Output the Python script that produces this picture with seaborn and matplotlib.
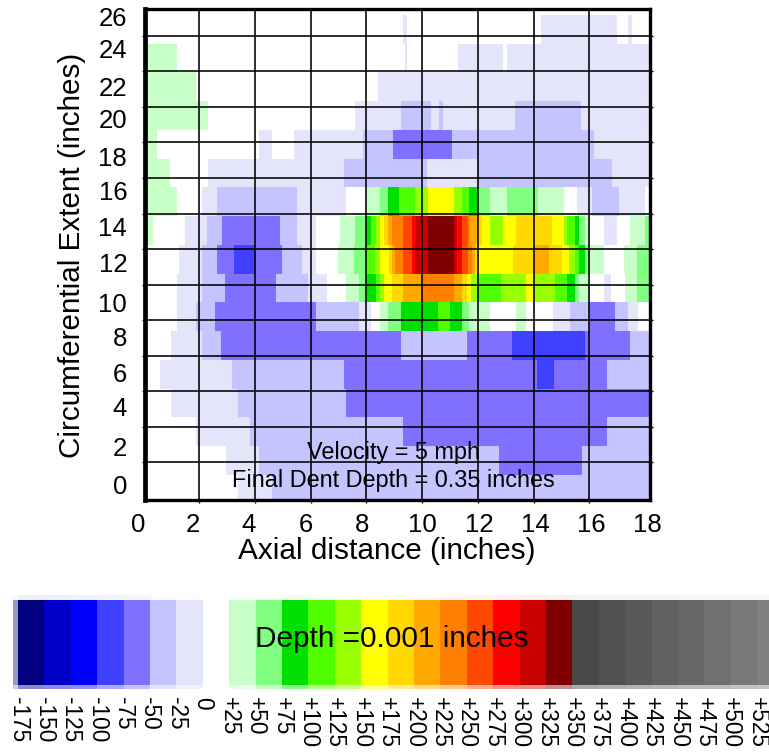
import numpy as np
import matplotlib
matplotlib.use("Agg")
import matplotlib.pyplot as plt
from matplotlib.colors import ListedColormap, BoundaryNorm
import seaborn as sns

sns.set_theme(style="white")
plt.rcParams["font.family"] = ["Liberation Sans", "DejaVu Sans"]
plt.rcParams["text.color"] = "black"

# Colour bands, lower edge of each band in 0.001 inches
depth_bands = [-200, -175, -150, -125, -100, -75, -50, -25, 0, 25, 50, 75, 100, 125, 150,
               175, 200, 225, 250, 275, 300, 325, 350, 375, 400, 425, 450, 475, 500, 525]
band_colors = ["#9a9ac6", "#000080", "#0000c8", "#0000ff", "#4040ff", "#8070ff", "#c4c4ff",
               "#e4e4fa", "#ffffff", "#c8ffc8", "#80ff80", "#00e000", "#50ff00", "#98ff00",
               "#ffff00", "#ffd800", "#ffa800", "#ff8000", "#ff4800", "#ff0000", "#c80000",
               "#800000", "#484848", "#505050", "#585858", "#606060", "#686868", "#707070",
               "#787878", "#808080"]
bar_labels = ["-175", "-150", "-125", "-100", "-75", "-50", "-25", "0", "+25", "+50", "+75",
              "+100", "+125", "+150", "+175", "+200", "+225", "+250", "+275", "+300", "+325",
              "+350", "+375", "+400", "+425", "+450", "+475", "+500", "+525"]

# Dent depth, top row first. Each row is a list of (depth band, last sample of the run)
n_samples = 504
dent_rows = [
    [(0, 258), (-25, 262), (0, 396), (-25, 472), (0, 483), (-25, 487), (0, 504)],
    [(25, 32), (0, 260), (-25, 262), (0, 313), (-25, 358), (0, 362), (-25, 504)],
    [(25, 51), (0, 233), (-25, 504)],
    [(25, 63), (0, 210), (-25, 256), (-50, 286), (-25, 294), (-50, 298), (-25, 370), (-50, 436), (-25, 504)],
    [(25, 12), (0, 114), (-25, 127), (0, 149), (-25, 218), (-50, 248), (-75, 307), (-50, 449), (-25, 504)],
    [(25, 25), (0, 63), (-25, 199), (-50, 282), (-25, 332), (-50, 467), (-25, 504)],
    [(25, 32), (0, 57), (-25, 72), (-50, 152), (-25, 201), (0, 222), (25, 235), (50, 243), (75, 254),
     (100, 270), (125, 283), (150, 309), (125, 317), (100, 324), (75, 332), (50, 345), (25, 362),
     (50, 393), (25, 419), (0, 432), (-25, 447), (-50, 474), (-25, 500), (0, 504)],
    [(25, 8), (0, 40), (-25, 62), (-50, 77), (-75, 135), (-50, 152), (-25, 171), (0, 195), (25, 210),
     (50, 221), (75, 226), (100, 231), (125, 235), (150, 239), (175, 243), (200, 247), (225, 258),
     (250, 267), (275, 271), (300, 283), (325, 309), (300, 312), (275, 317), (250, 323), (225, 325),
     (200, 332), (175, 337), (150, 345), (125, 358), (150, 371), (175, 407), (150, 419), (125, 422),
     (100, 430), (75, 434), (50, 440), (25, 445), (0, 459), (-25, 472), (0, 485), (25, 500), (50, 504)],
    [(0, 34), (-25, 57), (-50, 72), (-75, 89), (-100, 110), (-75, 137), (-50, 157), (-25, 171), (0, 193),
     (25, 209), (50, 221), (100, 230), (125, 235), (150, 244), (175, 247), (200, 250), (225, 258),
     (250, 267), (275, 270), (300, 283), (325, 309), (300, 312), (275, 317), (250, 323), (225, 327),
     (200, 330), (175, 332), (150, 368), (175, 388), (200, 404), (175, 417), (150, 424), (125, 430),
     (100, 434), (75, 440), (50, 445), (25, 459), (0, 479), (25, 492), (50, 504)],
    [(0, 32), (-25, 57), (-50, 80), (-75, 131), (-50, 163), (-25, 182), (0, 201), (25, 214), (50, 222),
     (75, 231), (100, 235), (125, 239), (150, 247), (175, 258), (200, 276), (225, 309), (200, 317),
     (175, 322), (150, 326), (125, 332), (100, 356), (125, 381), (150, 388), (125, 410), (100, 422),
     (75, 430), (50, 434), (25, 445), (0, 459), (-25, 466), (0, 480), (25, 492), (50, 504)],
    [(0, 32), (-25, 51), (-50, 70), (-75, 171), (-50, 214), (-25, 226), (0, 235), (25, 243), (50, 256),
     (75, 293), (100, 305), (75, 317), (50, 324), (25, 345), (0, 371), (25, 381), (0, 408), (-25, 425),
     (-50, 444), (-75, 470), (-50, 483), (-25, 493), (0, 504)],
    [(0, 26), (-25, 57), (-50, 76), (-75, 256), (-50, 322), (-75, 367), (-100, 440), (-75, 485), (-50, 504)],
    [(0, 15), (-25, 87), (-50, 199), (-75, 392), (-100, 409), (-75, 462), (-50, 504)],
    [(0, 26), (-25, 93), (-50, 201), (-75, 504)],
    [(0, 51), (-25, 105), (-50, 258), (-75, 462), (-50, 504)],
    [(0, 81), (-25, 114), (-50, 354), (-75, 437), (-50, 504)],
    [(0, 93), (-25, 127), (-50, 504)],
]

x_ticks = [2, 4, 6, 8, 10, 12, 14, 16]
y_ticks = [2, 4, 6, 8, 10, 12, 14, 16, 18, 20, 22, 24, 26]
x_labels = ["0", "2", "4", "6", "8", "10", "12", "14", "16", "18"]
y_labels = ["0", "2", "4", "6", "8", "10", "12", "14", "16", "18", "20", "22", "24", "26"]


def px_axes(left, top, right, bottom):
    # axes from pixel edges of the 769x752 picture
    return fig.add_axes([left / 769, 1 - bottom / 752, (right - left) / 769, (bottom - top) / 752])


dent = np.array([np.repeat([b for b, _ in row], np.diff([0] + [e for _, e in row])) for row in dent_rows])
cmap = ListedColormap(band_colors)
norm = BoundaryNorm(depth_bands + [550], len(band_colors))

fig = plt.figure(figsize=(7.69, 7.52), dpi=100)
box = (145, 9, 649.5, 499.5)

# Depth map
heat_ax = px_axes(*box)
sns.heatmap(dent, cmap=cmap, norm=norm, cbar=False, xticklabels=False, yticklabels=False, ax=heat_ax)
heat_ax.set_xlim(0, n_samples)
heat_ax.set_ylim(16.86, -0.2)

# Grid and frame on top of the map
grid_ax = px_axes(*box)
grid_ax.patch.set_alpha(0)
grid_ax.set_xticks(x_ticks)
grid_ax.set_yticks(y_ticks)
grid_ax.set_xlim(0.05, 18.16)
grid_ax.set_ylim(-0.11, 27.52)
grid_ax.set_xticklabels([])
grid_ax.set_yticklabels([])
grid_ax.grid(True, color="black", linewidth=1.15)
grid_ax.tick_params(left=True, bottom=True, right=True, length=2, width=1, color="black")
for side, lw in zip(["left", "top", "right", "bottom"], [3.4, 2.4, 2.4, 2.4]):
    grid_ax.spines[side].set_visible(True)
    grid_ax.spines[side].set_linewidth(lw)
    grid_ax.spines[side].set_color("black")

# The numbers do not sit on the grid in the original, so they get their own pixel scale
label_ax = px_axes(130, 9, 660, 499.5)
label_ax.patch.set_alpha(0)
label_ax.set_xticks([138, 193, 249, 306, 362, 422, 479, 535, 591, 647])
label_ax.set_yticks([485, 447, 407, 372, 337, 302, 262, 227, 190, 156, 118, 86, 48, 16])
label_ax.set_xticklabels(x_labels)
label_ax.set_yticklabels(y_labels)
label_ax.set_xlim(130, 660)
label_ax.set_ylim(499.5, 9)
label_ax.tick_params(length=0, labelsize=18.5, colors="black")
label_ax.tick_params(axis="x", pad=10)
label_ax.tick_params(axis="y", pad=2)
for spine in label_ax.spines.values():
    spine.set_visible(False)

fig.text(387 / 769, 1 - 551 / 752, "Axial distance (inches)", fontsize=21.4, ha="center", va="center")
fig.text(72 / 769, 1 - 255 / 752, "Circumferential Extent (inches)", fontsize=21.3, rotation=90,
         ha="center", va="center")
fig.text(393.5 / 769, 1 - 452 / 752, "Velocity = 5 mph", fontsize=16.9, ha="center", va="center")
fig.text(393.5 / 769, 1 - 481 / 752, "Final Dent Depth = 0.35 inches", fontsize=16.9, ha="center", va="center")

# Colour key: pale strips above and below the bar
bar_values = np.array([depth_bands])
bar_xlim = (0.81, 29.45)
for top, bottom, alpha in [(595, 600, 0.06), (685, 689, 0.45), (600, 685, 1)]:
    bar_ax = px_axes(13, top, 769, bottom)
    sns.heatmap(bar_values, cmap=cmap, norm=norm, cbar=False, xticklabels=False, yticklabels=False,
                alpha=alpha, ax=bar_ax)
    bar_ax.set_xlim(*bar_xlim)

bar_ax.set_xticks(np.arange(1, len(depth_bands)))
bar_ax.set_xticklabels(bar_labels, rotation=270, ha="center", va="top", fontsize=16.3, color="black")
bar_ax.set_xlim(*bar_xlim)
bar_ax.tick_params(axis="x", length=0, pad=8.5, bottom=True)
fig.text(392 / 769, 1 - 639 / 752, "Depth =0.001 inches", fontsize=21.4, ha="center", va="center")

fig.savefig("out.png", dpi=100)
